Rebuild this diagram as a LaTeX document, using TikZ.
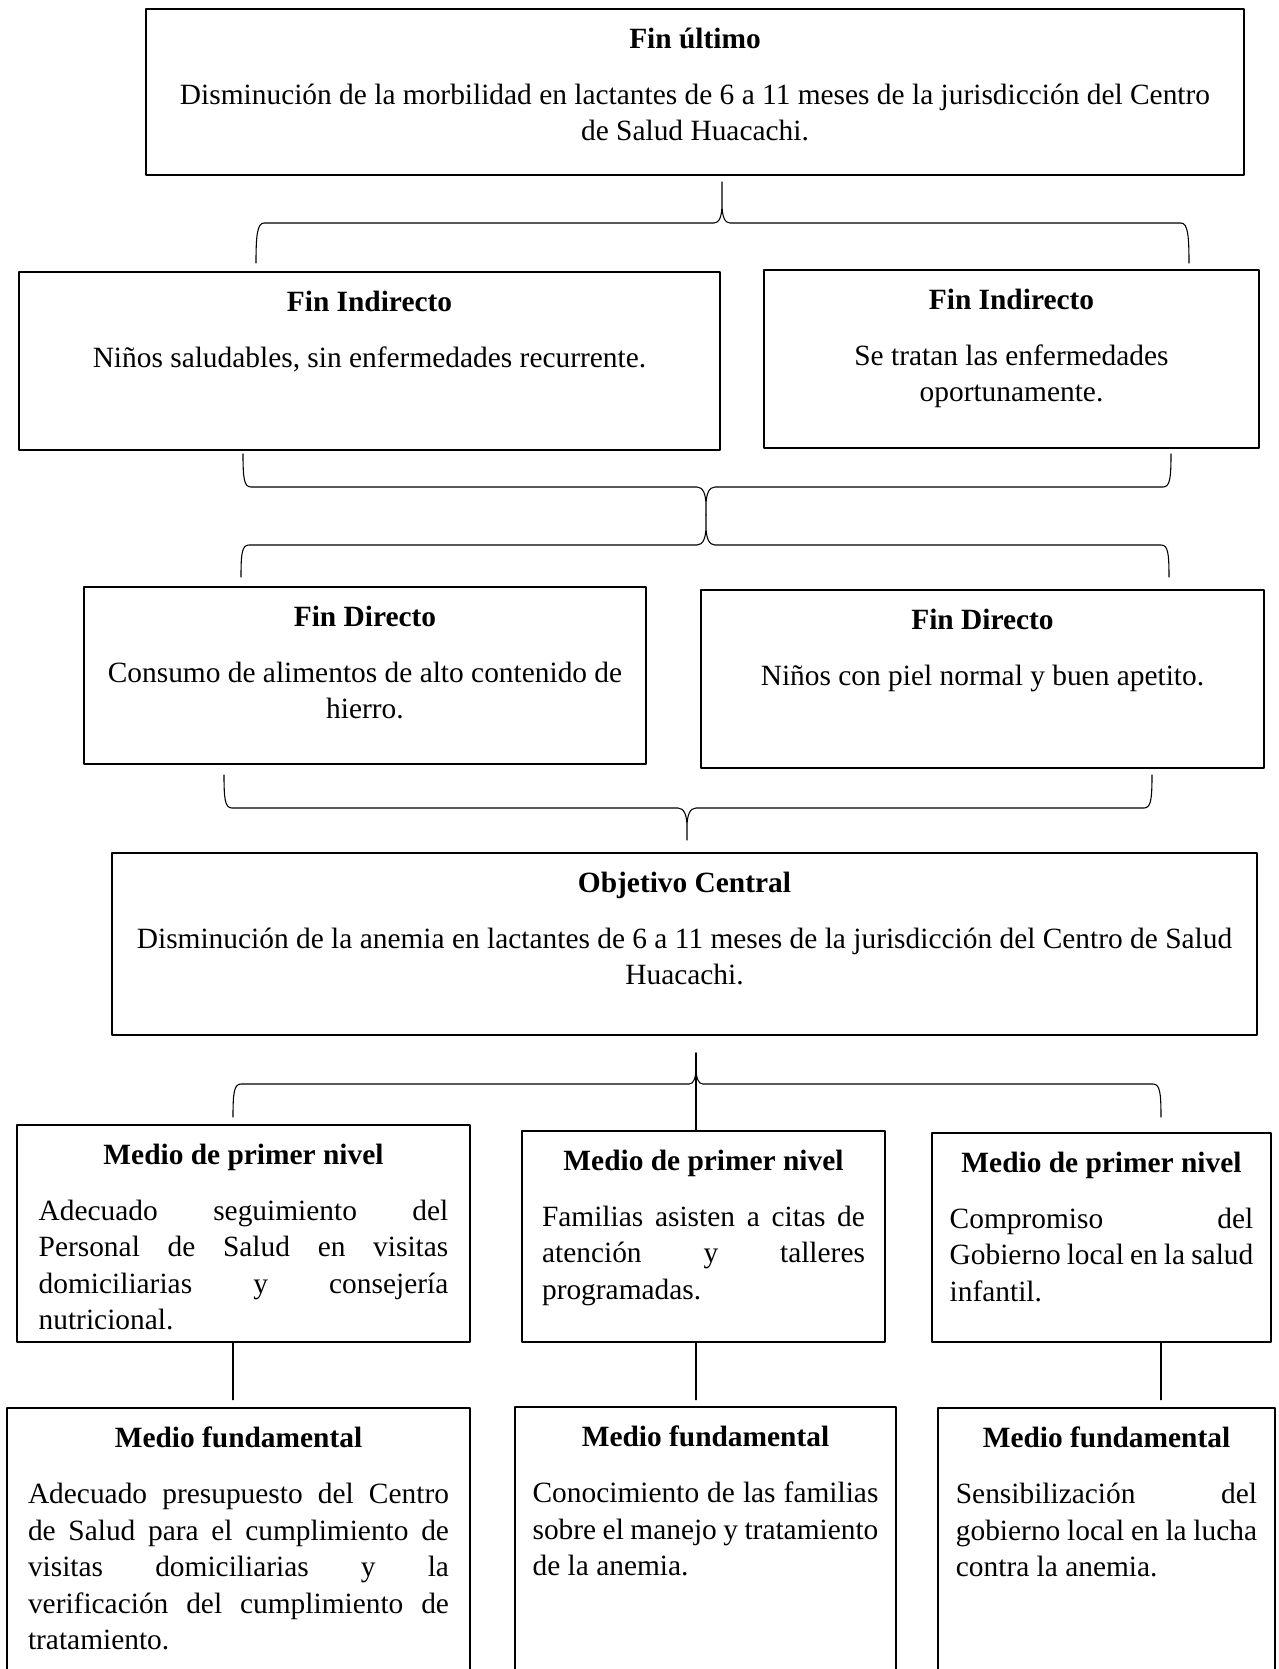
\documentclass[tikz,border=0pt]{standalone}
\usepackage{fontspec}
\setmainfont{Liberation Serif}
\usetikzlibrary{positioning}
\usetikzlibrary{fit}
\setlength{\parindent}{0pt}
\tolerance=10000
\hbadness=10000
\hyphenpenalty=10000

\begin{document}
\begin{tikzpicture}[x=0.415pt, y=-0.415pt, line cap=round, line join=round,
    box/.style={draw, inner sep=0pt, line width=0.6pt},
    boxtext/.style={anchor=north, inner sep=0pt, yshift=-7.9pt, text width=#1, align=flush center,
        font=\fontsize{12.2}{15.2}\selectfont},
    jtext/.style={boxtext=#1, align=justify},
    bracket/.style={line width=0.45pt}]
            % page
            \useasboundingbox (0,0) rectangle (1279,1669);
            \clip (0,0) rectangle (1279,1669);

            % fin ultimo
            \node[box, fit={(146,9) (1244,175)}] (fin) {};
            \node[boxtext=440pt] (finT) at (fin.north) {\textbf{Fin último}\\[8pt]Disminución de la morbilidad en lactantes de 6 a 11 meses de la jurisdicción del Centro\\de Salud Huacachi.};

            % fines indirectos
            \node[box, fit={(19,272) (720,450)}] (indA) {};
            \node[boxtext=274pt] (indAT) at (indA.north) {\textbf{Fin Indirecto}\\[8pt]Niños saludables, sin enfermedades recurrente.};
            \node[box, fit={(764,270) (1259,448)}] (indB) {};
            \node[boxtext=189pt] (indBT) at (indB.north) {\textbf{Fin Indirecto}\\[8pt]Se tratan las enfermedades\\oportunamente.};

            % fines directos
            \node[box, fit={(84,587) (646,764)}] (dirA) {};
            \node[boxtext=222pt] (dirAT) at (dirA.north) {\textbf{Fin Directo}\\[8pt]Consumo de alimentos de alto contenido de\\hierro.};
            \node[box, fit={(701,590) (1264,768)}] (dirB) {};
            \node[boxtext=222pt] (dirBT) at (dirB.north) {\textbf{Fin Directo}\\[8pt]Niños con piel normal y buen apetito.};

            % objetivo central
            \node[box, fit={(112,853) (1257,1035)}] (obj) {};
            \node[boxtext=470pt] (objT) at (obj.north) {\textbf{Objetivo Central}\\[8pt]Disminución de la anemia en lactantes de 6 a 11 meses de la jurisdicción del Centro de Salud\\Huacachi.};

            % medios de primer nivel
            \node[box, fit={(17,1125) (470,1342)}] (medA) {};
            \node[jtext=170pt] (medAT) at (medA.north) {{\centering\textbf{Medio de primer nivel}\par}\vspace{8pt}Adecuado seguimiento del\linebreak Personal de Salud en visitas\linebreak domiciliarias y consejería\linebreak nutricional.};
            \node[box, fit={(522,1131) (885,1342)}] (medB) {};
            \node[jtext=134pt] (medBT) at (medB.north) {{\centering\textbf{Medio de primer nivel}\par}\vspace{8pt}Familias asisten a citas de\linebreak atención y talleres\linebreak programadas.};
            \node[box, fit={(932,1133) (1271,1342)}] (medC) {};
            \node[jtext=126pt] (medCT) at (medC.north) {{\centering\textbf{Medio de primer nivel}\par}\vspace{8pt}Compromiso del\linebreak Gobierno local en la salud\linebreak infantil.};

            % medios fundamentales (cut by the page)
            \node[box, fit={(7,1408) (470,1700)}] (funA) {};
            \node[jtext=174.7pt] (funAT) at (funA.north) {{\centering\textbf{Medio fundamental}\par}\vspace{8pt}Adecuado presupuesto del Centro\linebreak de Salud para el cumplimiento de\linebreak visitas domiciliarias y la\linebreak verificación del cumplimiento de\linebreak tratamiento.};
            \node[box, fit={(515,1407) (896,1700)}] (funB) {};
            \node[jtext=143.5pt] (funBT) at (funB.north) {{\centering\textbf{Medio fundamental}\par}\vspace{8pt}Conocimiento de las familias\linebreak sobre el manejo y tratamiento\linebreak de la anemia.};
            \node[box, fit={(938,1408) (1275,1700)}] (funC) {};
            \node[jtext=125pt] (funCT) at (funC.north) {{\centering\textbf{Medio fundamental}\par}\vspace{8pt}Sensibilización del\linebreak gobierno local en la lucha\linebreak contra la anemia.};

            % brace under fin ultimo
            \draw[bracket] (256,263) .. controls (256,237) and (257,223) .. (264,223)
                -- (714,223) .. controls (719,223) and (722,217) .. (722,204) -- (722,182)
                -- (722,204) .. controls (722,217) and (725,223) .. (730,223)
                -- (1181,223) .. controls (1188,223) and (1189,237) .. (1189,263);

            % brace under fines indirectos
            \draw[bracket] (243,454) .. controls (243,478) and (244,487) .. (251,487)
                -- (697,487) .. controls (703,487) and (706,494) .. (706,506) -- (706,515)
                -- (706,506) .. controls (706,494) and (709,487) .. (715,487)
                -- (1163,487) .. controls (1170,487) and (1171,478) .. (1171,454);

            % brace over fines directos
            \draw[bracket] (241,577) .. controls (241,553) and (242,545) .. (249,545)
                -- (697,545) .. controls (703,545) and (706,538) .. (706,526) -- (706,515)
                -- (706,526) .. controls (706,538) and (709,545) .. (715,545)
                -- (1161,545) .. controls (1168,545) and (1169,553) .. (1169,577);

            % brace under fines directos
            \draw[bracket] (224,775) .. controls (224,799) and (225,808) .. (232,808)
                -- (678,808) .. controls (684,808) and (687,815) .. (687,827) -- (687,840)
                -- (687,827) .. controls (687,815) and (690,808) .. (696,808)
                -- (1144,808) .. controls (1151,808) and (1152,799) .. (1152,775);

            % brace under objetivo central
            \coordinate (kA) at (233,1117);
            \coordinate (kB) at (696,1053);
            \coordinate (kC) at (1161,1117);
            \draw[bracket] (kA) .. controls (233,1093) and (234,1084) .. (241,1084)
                -- (689,1084) .. controls (694,1084) and (696,1078) .. (696,1066) -- (kB)
                -- (696,1066) .. controls (696,1078) and (698,1084) .. (703,1084)
                -- (1153,1084) .. controls (1160,1084) and (1161,1093) .. (kC);
            \draw[bracket] (kB) -- (kB |- medB.north);

            % medio de primer nivel to medio fundamental
            \draw[bracket] (medA.south -| kA) -- ++(0,57);
            \draw[bracket] (medB.south -| kB) -- ++(0,57);
            \draw[bracket] (medC.south -| kC) -- ++(0,57);
\end{tikzpicture}
\end{document}
